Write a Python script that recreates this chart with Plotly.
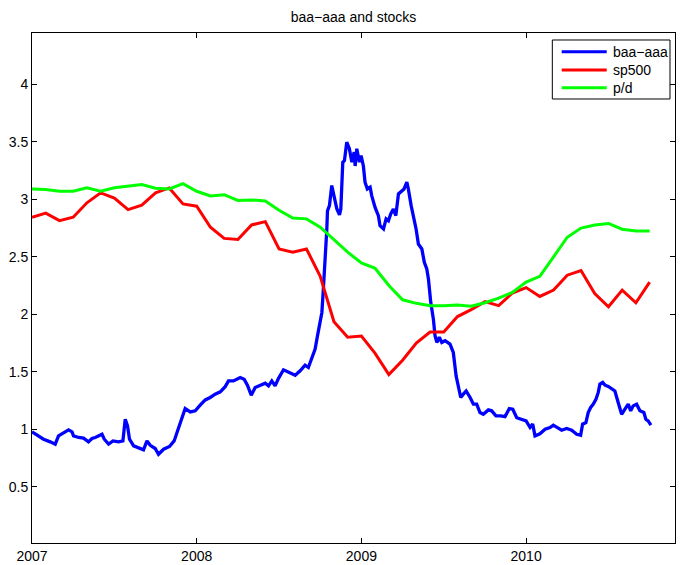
import numpy as np
import plotly.graph_objects as go

# ---------------- data ----------------
start_year = 2007
year_ticks = [2007, 2008, 2009, 2010]
y_ticks = [0.5, 1, 1.5, 2, 2.5, 3, 3.5, 4]
y_ticktext = ["0.5", "1", "1.5", "2", "2.5", "3", "3.5", "4"]
series_names = ["baa\u2212aaa", "sp500", "p/d"]
series_colors = ["#0000FF", "#FF0000", "#00FF00"]

# monthly series (Jan 2007 .. Oct 2010)
sp500 = [2.844, 2.88, 2.815, 2.844, 2.97, 3.056, 3.01, 2.91, 2.95, 3.056,
         3.099, 2.96, 2.94, 2.757, 2.66, 2.65, 2.777, 2.806, 2.568, 2.54,
         2.568, 2.33, 1.935, 1.80, 1.81, 1.66, 1.475, 1.60, 1.75, 1.845,
         1.845, 1.98, 2.04, 2.11, 2.075, 2.185, 2.232, 2.155, 2.21, 2.34,
         2.38, 2.18, 2.065, 2.21, 2.10, 2.28]
pd_ratio = [3.09, 3.085, 3.07, 3.07, 3.10, 3.07, 3.10, 3.114, 3.128, 3.097,
            3.09, 3.136, 3.07, 3.03, 3.04, 2.99, 2.995, 2.985, 2.905, 2.838,
            2.83, 2.757, 2.65, 2.54, 2.446, 2.40, 2.25, 2.126, 2.095, 2.074,
            2.074, 2.08, 2.07, 2.10, 2.14, 2.19, 2.28, 2.33, 2.50, 2.67,
            2.75, 2.777, 2.79, 2.74, 2.725, 2.725]

# baa-aaa spread: time (years since Jan 2007) and value
baa_t = [0.000, 0.030, 0.070, 0.111, 0.141, 0.161, 0.192, 0.222, 0.243, 0.252,
         0.283, 0.313, 0.343, 0.364, 0.384, 0.425, 0.439, 0.465, 0.492, 0.525,
         0.552, 0.566, 0.580, 0.592, 0.617, 0.647, 0.677, 0.698, 0.718, 0.748,
         0.768, 0.799, 0.835, 0.863, 0.890, 0.910, 0.930, 0.961, 0.991, 1.021,
         1.052, 1.082, 1.112, 1.143, 1.173, 1.193, 1.223, 1.264, 1.288, 1.308,
         1.331, 1.355, 1.385, 1.416, 1.436, 1.456, 1.476, 1.496, 1.527, 1.557,
         1.598, 1.628, 1.658, 1.678, 1.699, 1.719, 1.733, 1.749, 1.760, 1.769,
         1.780, 1.790, 1.794, 1.806, 1.820, 1.830, 1.840, 1.851, 1.867, 1.875,
         1.887, 1.897, 1.911, 1.927, 1.942, 1.956, 1.962, 1.972, 1.988, 1.998,
         2.012, 2.022, 2.036, 2.053, 2.063, 2.083, 2.103, 2.113, 2.134, 2.150,
         2.164, 2.178, 2.194, 2.209, 2.225, 2.245, 2.259, 2.276, 2.285, 2.302,
         2.316, 2.332, 2.346, 2.367, 2.382, 2.397, 2.407, 2.421, 2.437, 2.447,
         2.458, 2.473, 2.488, 2.508, 2.538, 2.558, 2.575, 2.589, 2.603, 2.619,
         2.636, 2.660, 2.680, 2.700, 2.720, 2.740, 2.771, 2.791, 2.817, 2.846,
         2.872, 2.898, 2.919, 2.943, 2.973, 3.000, 3.024, 3.040, 3.054, 3.084,
         3.115, 3.145, 3.165, 3.186, 3.216, 3.246, 3.277, 3.307, 3.331, 3.343,
         3.363, 3.377, 3.392, 3.408, 3.424, 3.438, 3.448, 3.465, 3.479, 3.499,
         3.519, 3.539, 3.559, 3.580, 3.600, 3.620, 3.635, 3.650, 3.671, 3.691,
         3.715, 3.727, 3.741, 3.758]
baa_aaa = [0.977, 0.948, 0.913, 0.89, 0.87, 0.942, 0.97, 0.994, 0.977, 0.942,
           0.928, 0.922, 0.89, 0.919, 0.928, 0.956, 0.913, 0.87, 0.898, 0.89,
           0.898, 1.087, 1.029, 0.913, 0.855, 0.834, 0.82, 0.898, 0.86, 0.832,
           0.782, 0.826, 0.85, 0.898, 1.006, 1.10, 1.18, 1.15, 1.16, 1.21,
           1.255, 1.276, 1.305, 1.325, 1.37, 1.42, 1.42, 1.45, 1.435, 1.383,
           1.296, 1.363, 1.383, 1.40, 1.377, 1.42, 1.377, 1.44, 1.517, 1.50,
           1.47, 1.508, 1.557, 1.537, 1.61, 1.697, 1.81, 1.93, 2.016, 2.22,
           2.45, 2.74, 2.90, 2.945, 3.12, 3.047, 2.99, 2.916, 2.864, 2.916,
           3.323, 3.337, 3.497, 3.44, 3.323, 3.41, 3.29, 3.44, 3.323, 3.38,
           3.29, 3.149, 3.09, 3.105, 3.03, 2.93, 2.858, 2.77, 2.742, 2.83,
           2.814, 2.873, 2.916, 2.858, 3.047, 3.076, 3.09, 3.149, 3.09, 2.945,
           2.858, 2.742, 2.611, 2.568, 2.452, 2.394, 2.307, 2.104, 1.958, 1.813,
           1.755, 1.80, 1.755, 1.77, 1.74, 1.668, 1.464, 1.377, 1.276, 1.305,
           1.333, 1.276, 1.218, 1.218, 1.145, 1.13, 1.168, 1.16, 1.116, 1.116,
           1.11, 1.18, 1.174, 1.10, 1.087, 1.072, 1.015, 1.044, 0.942, 0.96,
           1.0, 1.015, 1.035, 1.015, 0.991, 1.006, 0.991, 0.956, 0.948, 1.044,
           1.058, 1.145, 1.189, 1.218, 1.26, 1.32, 1.392, 1.407, 1.383, 1.372,
           1.348, 1.333, 1.232, 1.13, 1.174, 1.218, 1.16, 1.203, 1.218, 1.16,
           1.145, 1.087, 1.072, 1.035]

# ---------------- figure ----------------
month_x = start_year + np.arange(len(sp500)) / 12.0
baa_x = start_year + np.array(baa_t)

FONT = "Liberation Sans, Arial, Helvetica, sans-serif"

fig = go.Figure()
fig.add_trace(go.Scatter(x=baa_x, y=baa_aaa, mode="lines", name=series_names[0],
                         line=dict(color=series_colors[0], width=3.3)))
fig.add_trace(go.Scatter(x=month_x, y=sp500, mode="lines", name=series_names[1],
                         line=dict(color=series_colors[1], width=3)))
fig.add_trace(go.Scatter(x=month_x, y=pd_ratio, mode="lines", name=series_names[2],
                         line=dict(color=series_colors[2], width=3)))

axis_common = dict(showline=True, linecolor="black", linewidth=1, mirror="ticks",
                   ticks="inside", ticklen=5, tickcolor="black", tickwidth=1,
                   showgrid=False, zeroline=False, automargin=False,
                   tickfont=dict(family=FONT, size=14, color="black"))

# ---- legend box drawn in MATLAB style (paper coordinates) ----
leg_x0, leg_x1 = 0.8092, 0.9922
leg_y0, leg_y1 = 0.8706, 0.9863
leg_line_x0, leg_line_x1 = 0.8238, 0.8938
leg_text_x = 0.9008
leg_rows = [0.9633, 0.9275, 0.8927]

shapes = [dict(type="rect", xref="paper", yref="paper", x0=leg_x0, x1=leg_x1,
               y0=leg_y0, y1=leg_y1, fillcolor="white",
               line=dict(color="black", width=1), layer="above")]
annotations = []
for name, color, yy in zip(series_names, series_colors, leg_rows):
    shapes.append(dict(type="line", xref="paper", yref="paper",
                       x0=leg_line_x0, x1=leg_line_x1, y0=yy, y1=yy,
                       line=dict(color=color, width=3), layer="above"))
    annotations.append(dict(text=name, xref="paper", yref="paper", x=leg_text_x,
                            y=yy, xanchor="left", yanchor="middle", showarrow=False,
                            font=dict(family=FONT, size=14, color="black")))

fig.update_layout(
    width=680, height=565,
    margin=dict(l=32, r=5, t=33, b=22, autoexpand=False),
    paper_bgcolor="white", plot_bgcolor="white",
    font=dict(family=FONT, size=14, color="black"),
    title=dict(text="baa\u2212aaa and stocks", x=0.5, xref="paper", xanchor="center",
               y=1 - 17 / 565, yref="container", yanchor="middle",
               font=dict(family=FONT, size=14, color="black")),
    xaxis=dict(range=[2007, 2010.904], tickvals=year_ticks,
               ticktext=[str(v) for v in year_ticks], **axis_common),
    yaxis=dict(range=[0.01, 4.447], tickvals=y_ticks, ticktext=y_ticktext,
               **axis_common),
    shapes=shapes,
    annotations=annotations,
    showlegend=False,
)

fig.write_html("out.html",
               config={"displayModeBar": False},
               post_script="document.body.style.margin='0';"
                           "document.body.style.padding='0';"
                           "document.body.style.overflow='hidden';")
